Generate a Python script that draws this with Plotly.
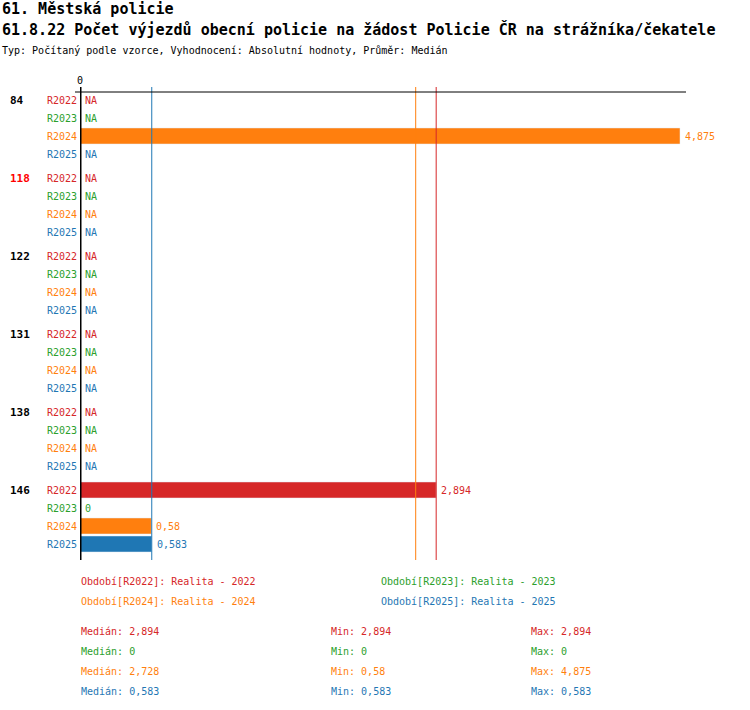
import numpy as np
import plotly.graph_objects as go
from decimal import Decimal, ROUND_HALF_UP

# --- data -------------------------------------------------------------
groups = ["84", "118", "122", "131", "138", "146"]
highlight_group = "118"
periods = ["R2022", "R2023", "R2024", "R2025"]
period_names = ["Realita - 2022", "Realita - 2023", "Realita - 2024", "Realita - 2025"]
r2022 = [None, None, None, None, None, 2.894]
r2023 = [None, None, None, None, None, 0]
r2024 = [4.875, None, None, None, None, 0.58]
r2025 = [None, None, None, None, None, 0.583]
series = [r2022, r2023, r2024, r2025]

colors = ["#d62728", "#2ca02c", "#ff7f0e", "#1f77b4"]
FONT = "DejaVu Sans Mono"
W, H = 750, 710


def fmt(v):
    d = Decimal(repr(float(v))).quantize(Decimal("0.001"), rounding=ROUND_HALF_UP)
    s = format(d.normalize(), "f")
    return s.replace(".", ",")


def py(px):  # pixel from top -> paper y
    return 1 - px / H


def text(x, y, s, size=10, color="black", xref="paper", yref="paper", anchor="left", xshift=0):
    return dict(x=x, y=y, xref=xref, yref=yref, text=s, xanchor=anchor, yanchor="middle",
                xshift=xshift, showarrow=False, font=dict(family=FONT, size=size, color=color))


# row positions: 4 rows per group plus a small gap
GROUP_STEP = 78 / 18
pos = {(g, p): gi * GROUP_STEP + pi for gi, g in enumerate(groups) for pi, p in enumerate(periods)}

fig = go.Figure()
ann = []

for p, vals, col in zip(periods, series, colors):
    ys = [pos[(g, p)] for g in groups]
    fig.add_trace(go.Bar(
        x=vals, y=ys, orientation="h",
        marker_color=col, width=0.89, name=p, showlegend=False, hoverinfo="skip",
    ))
    for v, y in zip(vals, ys):
        ann.append(text(0, y, p, color=col, xref="x", yref="y", anchor="right", xshift=-1))
        if v is None:
            ann.append(text(0, y, "NA", color=col, xref="x", yref="y", xshift=3))
        else:
            ann.append(text(v, y, fmt(v), color=col, xref="x", yref="y", xshift=3))

for g in groups:
    ann.append(text(8 / W, pos[(g, periods[0])], "<b>%s</b>" % g, size=11, yref="y",
                    color="#ff0000" if g == highlight_group else "black"))

# statistics
stats = []
for vals in series:
    a = np.array([v for v in vals if v is not None], dtype=float)
    stats.append((np.median(a), a.min(), a.max()))

shapes = []
for (med, _, _), col in zip(stats, colors):
    shapes.append(dict(type="line", xref="x", yref="paper", x0=med, x1=med,
                       y0=py(560), y1=py(87), line=dict(color=col, width=1)))
shapes.append(dict(type="line", xref="paper", yref="paper", x0=75 / W, x1=686 / W,
                   y0=py(92), y1=py(92), line=dict(color="black", width=1)))
shapes.append(dict(type="line", xref="x", yref="paper", x0=0, x1=0,
                   y0=py(560), y1=py(87), line=dict(color="black", width=3)))

ann.append(text(0, py(81), "0", xref="x", anchor="center"))

# titles
ann.append(text(0, py(9), "<b>61. Městská policie</b>", size=15))
ann.append(text(0, py(30), "<b>61.8.22 Počet výjezdů obecní policie na žádost Policie ČR na strážníka/čekatele</b>",
                size=15))
ann.append(text(0, py(50), "Typ: Počítaný podle vzorce, Vyhodnocení: Absolutní hodnoty, Průměr: Medián"))

# legend block
legend_xy = [(79, 581), (379, 581), (79, 601), (379, 601)]
for (lx, ly), p, nm, col in zip(legend_xy, periods, period_names, colors):
    ann.append(text(lx / W, py(ly), "Období[%s]: %s" % (p, nm), color=col))

for i, ((med, mn, mx), col) in enumerate(zip(stats, colors)):
    yy = py(631 + 20 * i)
    for lx, s in [(79, "Medián: " + fmt(med)), (329, "Min: " + fmt(mn)), (529, "Max: " + fmt(mx))]:
        ann.append(text(lx / W, yy, s, color=col))

PX_PER_UNIT = 600 / 4.875
x_dom = [80 / W, 686 / W]
x_max = (686 - 80) / PX_PER_UNIT
y_top = -8 / 18
y_bot = pos[(groups[-1], periods[-1])] + 16 / 18

fig.update_layout(
    width=W, height=H, margin=dict(l=0, r=0, t=0, b=0),
    paper_bgcolor="white", plot_bgcolor="white",
    barmode="overlay",
    xaxis=dict(domain=x_dom, range=[0, x_max], visible=False, fixedrange=True),
    yaxis=dict(domain=[py(560), py(92)], range=[y_bot, y_top], visible=False, fixedrange=True),
    shapes=shapes, annotations=ann,
)

fig.write_html("out.html", config={"displayModeBar": False},
               post_script="document.body.style.margin='0';")
